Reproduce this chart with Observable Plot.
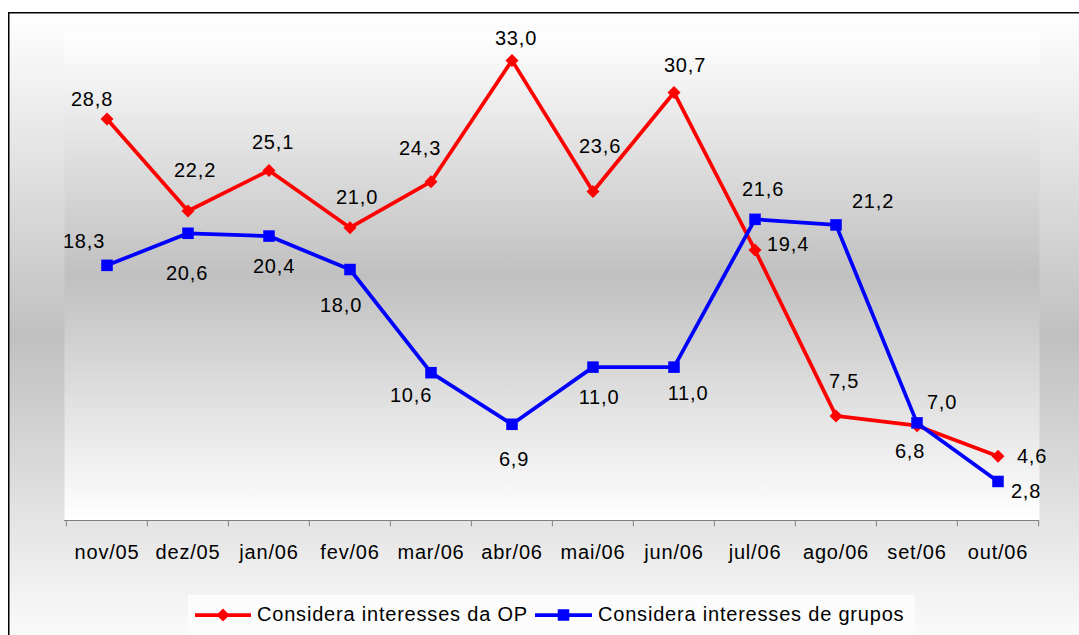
<!DOCTYPE html>
<html>
<head>
<meta charset="utf-8">
<script src="https://cdn.jsdelivr.net/npm/d3@7"></script>
<script src="https://cdn.jsdelivr.net/npm/@observablehq/plot@0.6"></script>
<style>
  html, body { margin: 0; padding: 0; background: #ffffff; overflow: hidden; }
  #chart svg { display: block; }
</style>
</head>
<body>
<div id="chart"></div>
<script>
// Monthly series, Nov 2005 – Oct 2006 (percent)
const months = ["nov/05", "dez/05", "jan/06", "fev/06", "mar/06", "abr/06",
                "mai/06", "jun/06", "jul/06", "ago/06", "set/06", "out/06"];
const opValues     = [28.8, 22.2, 25.1, 21.0, 24.3, 33.0, 23.6, 30.7, 19.4, 7.5, 6.8, 4.6];
const gruposValues = [18.3, 20.6, 20.4, 18.0, 10.6, 6.9, 11.0, 11.0, 21.6, 21.2, 7.0, 2.8];
const seriesNames  = ["Considera interesses da OP", "Considera interesses de grupos"];
const seriesColors = ["#ff0000", "#0000ff"];

// hand-placed value labels: pixel offset of each label from its point
const opLabelOffsets = [[-15, -19], [7, -40], [4, -28], [7, -30], [-11, -33], [4, -22],
                        [7, -45], [11, -27], [33, -5], [8, -34], [-7, 26], [34, 0]];
const gruposLabelOffsets = [[-23, -24], [-1, 40], [5, 31], [-9, 36], [-20, 23], [2, 35],
                            [6, 30], [14, 26], [8, -30], [37, -23], [25, -20], [28, 10]];

const fmt = v => v.toFixed(1).replace(".", ",");

const opRows = months.map((m, i) => ({month: m, value: opValues[i], off: opLabelOffsets[i]}));
const gruposRows = months.map((m, i) => ({month: m, value: gruposValues[i], off: gruposLabelOffsets[i]}));

// filled diamond (square turned 45°)
const diamond = {
  draw(context, size) {
    const r = Math.sqrt(size / Math.PI);
    context.moveTo(0, -r);
    context.lineTo(r, 0);
    context.lineTo(0, r);
    context.lineTo(-r, 0);
    context.closePath();
  }
};

const W = 1079, H = 635;
const margin = {left: 64, right: 40, top: 32, bottom: 115};
const bandW = (W - margin.left - margin.right) / months.length;
const FONT = "'Liberation Sans', Arial, Helvetica, sans-serif";

const labelMarks = rows => rows.map(d =>
  Plot.text([d], {
    x: "month", y: "value", text: r => fmt(r.value),
    dx: d.off[0], dy: d.off[1], fill: "#000", fontSize: 20
  })
);

const chart = Plot.plot({
  width: W, height: H,
  marginLeft: margin.left, marginRight: margin.right,
  marginTop: margin.top, marginBottom: margin.bottom,
  style: {fontFamily: FONT, fontSize: "20px", background: "transparent", color: "#000", letterSpacing: "0.8px", overflow: "visible"},
  x: {type: "band", domain: months, padding: 0, label: null},
  y: {domain: [0, 35], axis: null},
  marks: [
    Plot.frame({fill: "url(#plotfill)", stroke: "none"}),
    Plot.ruleY([0], {stroke: "#808080", strokeWidth: 1}),
    // category boundary ticks
    Plot.ruleX(months, {x: d => d, y1: 0, y2: -0.45, dx: -bandW / 2, stroke: "#808080"}),
    Plot.ruleX(months.slice(-1), {x: d => d, y1: 0, y2: -0.45, dx: bandW / 2, stroke: "#808080"}),
    Plot.axisX({tickSize: 0, tickPadding: 24, fontSize: 20, fill: "#000"}),
    Plot.line(opRows, {x: "month", y: "value", stroke: seriesColors[0], strokeWidth: 3.75}),
    Plot.dot(opRows, {x: "month", y: "value", symbol: diamond, r: 6.5, fill: seriesColors[0], stroke: "none"}),
    Plot.line(gruposRows, {x: "month", y: "value", stroke: seriesColors[1], strokeWidth: 3.75}),
    Plot.dot(gruposRows, {x: "month", y: "value", symbol: "square", r: 6.5, fill: seriesColors[1], stroke: "none"}),
    ...labelMarks(opRows),
    ...labelMarks(gruposRows)
  ]
});

document.getElementById("chart").appendChild(chart);

// background gradients, outer chart border and legend
const svg = d3.select(chart);
const defs = svg.insert("defs", ":first-child");
function vGradient(id, y1, y2) {
  const g = defs.append("linearGradient").attr("id", id)
    .attr("gradientUnits", "userSpaceOnUse")
    .attr("x1", 0).attr("x2", 0).attr("y1", y1).attr("y2", y2);
  g.append("stop").attr("offset", 0).attr("stop-color", "#ffffff");
  g.append("stop").attr("offset", 0.5).attr("stop-color", "#c0c0c0");
  g.append("stop").attr("offset", 1).attr("stop-color", "#ffffff");
}
vGradient("outerfill", 12, 660);
vGradient("plotfill", margin.top, H - margin.bottom);

svg.insert("rect", "defs + *")
  .attr("x", 8.75).attr("y", 12.75)
  .attr("width", W + 40).attr("height", H + 60)
  .attr("fill", "url(#outerfill)")
  .attr("stroke", "#000").attr("stroke-width", 1.5);

const legend = svg.append("g")
  .attr("font-family", FONT).attr("font-size", 20).attr("letter-spacing", "0.8px")
  .attr("text-anchor", "start");
legend.append("rect")
  .attr("x", 188).attr("y", 595).attr("width", 727).attr("height", 50)
  .attr("fill", "#fcfcfc");
const ly = 615;
const items = [
  {x0: 195, x1: 251, sym: diamond, text: 257},
  {x0: 535, x1: 592, sym: d3.symbolSquare, text: 598}
];
items.forEach((it, i) => {
  legend.append("line")
    .attr("x1", it.x0).attr("x2", it.x1).attr("y1", ly).attr("y2", ly)
    .attr("stroke", seriesColors[i]).attr("stroke-width", 3.75);
  legend.append("path")
    .attr("transform", `translate(${(it.x0 + it.x1) / 2},${ly})`)
    .attr("d", d3.symbol(it.sym, 6.5 * 6.5 * Math.PI)())
    .attr("fill", seriesColors[i]);
  legend.append("text")
    .attr("x", it.text).attr("y", ly).attr("dy", "0.32em")
    .attr("text-anchor", "start")
    .attr("fill", "#000").text(seriesNames[i]);
});
</script>
</body>
</html>
